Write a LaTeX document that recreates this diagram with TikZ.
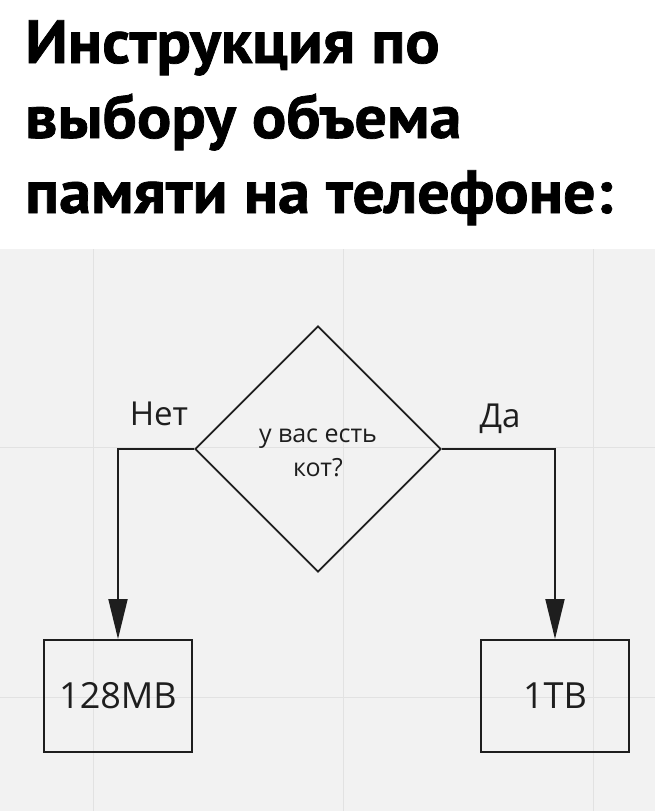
\documentclass[tikz,border=0pt]{standalone}
\usepackage{fontspec}
\setmainfont{Open Sans}
\newfontfamily\titlefont{PT Sans}[BoldFeatures={FakeStretch=1.05,FakeBold=1.2}]
\usetikzlibrary{arrows.meta,shapes.geometric}
\definecolor{bggray}{HTML}{F2F2F2}
\definecolor{gridgray}{HTML}{E2E2E2}
\definecolor{ink}{HTML}{1E1E1E}
\tikzset{
  titleline/.style={anchor=base west, inner sep=0pt, font=\titlefont\bfseries\fontsize{61}{70}\selectfont, text=black},
  decision/.style={draw=ink, line width=1.9pt, shape=diamond, aspect=1, minimum width=246pt, minimum height=246pt, inner sep=0pt},
  qtext/.style={align=center, inner sep=0pt, font=\fontsize{25}{34}\selectfont, text=ink},
  resultbox/.style={draw=ink, line width=1.9pt, minimum width=148pt, minimum height=112pt, inner sep=0pt, font=\fontsize{36}{40}\selectfont, text=ink},
  branchlabel/.style={anchor=base, inner sep=0pt, font=\fontsize{33}{36}\selectfont, text=ink},
  arr/.style={draw=ink, line width=1.9pt, -{Triangle[length=40pt,width=19pt]}},
  gridline/.style={draw=gridgray, line width=0.9pt}
}
\begin{document}
\begin{tikzpicture}[x=1pt,y=-1pt]
\useasboundingbox (0,0) rectangle (655,811);
\fill[white] (0,0) rectangle (655,249);
\fill[bggray] (0,249) rectangle (655,811);
\foreach \gx in {93,343,593} \draw[gridline] (\gx,249) -- (\gx,811);
\foreach \gy in {447,697} \draw[gridline] (0,\gy) -- (655,\gy);

\node[titleline] (t1) at (25,63) {Инструкция по};
\node[titleline] (t2) at (25,138) {выбору объема};
\node[titleline] (t3) at (25,213) {памяти на телефоне:};

\node[decision] (d) at (318,449) {};
\node[qtext] (q) at (318,453) {у вас есть\\кот?};

\node[resultbox] (b1) at (118,696) {128MB};
\node[resultbox] (b2) at (555,696) {1TB};

\draw[arr] (d.west) -| (b1.north);
\draw[arr] (d.east) -| (b2.north);

\node[branchlabel] (no) at (159,425) {Нет};
\node[branchlabel] (yes) at (500,427) {Да};
\end{tikzpicture}
\end{document}
